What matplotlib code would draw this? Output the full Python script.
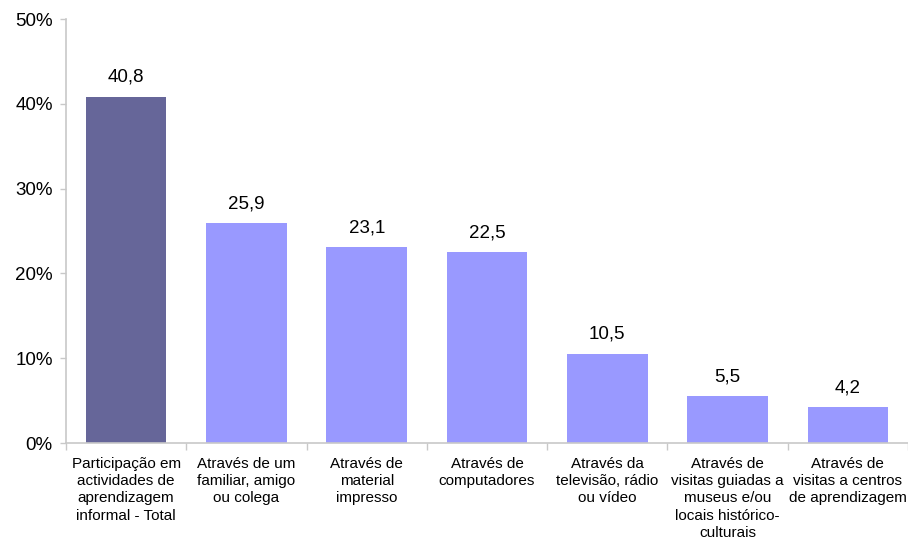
import numpy as np
import matplotlib.pyplot as plt
from matplotlib.ticker import PercentFormatter

# categorias e valores (%)
categorias = [
    "Participação em\nactividades de\naprendizagem\ninformal - Total",
    "Através de um\nfamiliar, amigo\nou colega",
    "Através de\nmaterial\nimpresso",
    "Através de\ncomputadores",
    "Através da\ntelevisão, rádio\nou vídeo",
    "Através de\nvisitas guiadas a\nmuseus e/ou\nlocais histórico-\nculturais",
    "Através de\nvisitas a centros\nde aprendizagem",
]
valores = [40.8, 25.9, 23.1, 22.5, 10.5, 5.5, 4.2]
rotulos = ["40,8", "25,9", "23,1", "22,5", "10,5", "5,5", "4,2"]
cores = ["#666699"] + ["#9999ff"] * 6

plt.rcParams['font.family'] = ['Liberation Sans', 'DejaVu Sans']

fig = plt.figure(figsize=(9.08, 5.44), dpi=100)
ax = fig.add_axes([66 / 908, 101 / 544, 842 / 908, 424 / 544])

x = np.arange(len(valores))
ax.bar(x, valores, width=0.67, color=cores)

for xi, v, r in zip(x, valores, rotulos):
    ax.annotate(r, (xi, v), xytext=(0, 8), textcoords="offset points",
                ha="center", va="bottom", fontsize=13.5)

ax.set_xlim(-0.5, len(valores) - 0.5)
ax.set_ylim(0, 50)
ax.set_yticks(np.arange(0, 51, 10))
ax.yaxis.set_major_formatter(PercentFormatter(decimals=0))
ax.tick_params(axis="y", labelsize=13.5, color="#c8c8c8", length=4.5, width=1, pad=5)

ax.set_xticks(x)
ax.set_xticklabels(categorias, fontsize=11, linespacing=1.3, va="top")
ax.tick_params(axis="x", length=0, pad=10)
ax.set_xticks(np.arange(-0.5, len(valores)), minor=True)
ax.tick_params(axis="x", which="minor", length=5, color="#c8c8c8", width=1)

for s in ["top", "right"]:
    ax.spines[s].set_visible(False)
for s in ["left", "bottom"]:
    ax.spines[s].set_color("#c8c8c8")
    ax.spines[s].set_linewidth(1.2)

fig.savefig("out.png", dpi=100)
